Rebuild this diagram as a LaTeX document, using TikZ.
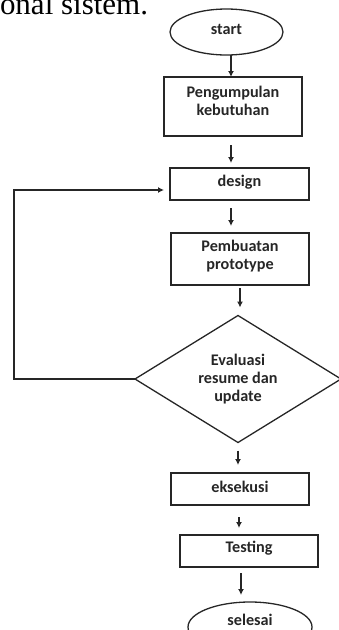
\documentclass[tikz,border=0pt]{standalone}
\usepackage{fontspec}
\setmainfont{Carlito}
\newfontfamily\serifx{Liberation Serif}
\usetikzlibrary{shapes.geometric,arrows.meta}
\tikzset{
  x=1pt, y=-1pt,
  every node/.style={outer sep=0pt},
  ln/.style={line width=1.3pt, draw=black!85},
  box/.style={ln, rectangle, minimum width=138pt, minimum height=32pt, inner sep=0pt},
  oval/.style={ln, ellipse, inner sep=0pt},
  dec/.style={ln, diamond, inner sep=0pt, minimum width=206pt, minimum height=127pt},
  txt/.style={align=center, inner sep=0pt, text=black!85, font=\bfseries\fontsize{16.2}{18}\selectfont},
  arr/.style={ln, -{Latex[length=6pt,width=6pt]}}
}
\begin{document}
\begin{tikzpicture}
\clip (0,0) rectangle (339,630);
\node[anchor=base west, inner sep=0pt, font=\serifx\fontsize{31}{36}\selectfont] (head) at (0,14) {onal sistem.};

\node[oval, minimum width=113pt, minimum height=46pt, label={[txt, yshift=3pt]center:start}] (start) at (226.5,32) {};
\node[box, minimum height=59pt, label={[txt, yshift=6pt]center:Pengumpulan\\kebutuhan}] (peng) at (233,106.5) {};
\node[box, minimum width=139pt, label={[txt, yshift=1.5pt]center:design}] (design) at (239.5,184) {};
\node[box, minimum height=52pt, label={[txt, yshift=3pt]center:Pembuatan\\prototype}] (pemb) at (240,259) {};
\node[dec, label={[txt]center:Evaluasi\\resume dan\\update}] (dia) at (238,379) {};
\node[box, label={[txt, yshift=2pt]center:eksekusi}] (eks) at (240,489) {};
\node[box, label={[txt, yshift=3pt]center:Testing}] (test) at (249,551) {};
\node[oval, minimum width=124pt, minimum height=50pt, label={[txt, yshift=7pt]center:selesai}] (end) at (250,627) {};
\coordinate (loopx) at (14,300);

\draw[arr] ([xshift=4.5pt]start.south) -- ([xshift=-2pt]peng.north);
\draw[arr, shorten <=9pt, shorten >=5pt] ([xshift=-2pt]peng.south) -- ([xshift=-8.5pt]design.north);
\draw[arr, shorten <=8pt, shorten >=7pt] ([xshift=-8.5pt]design.south) -- ([xshift=-9pt]pemb.north);
\draw[arr, shorten <=3pt, shorten >=8pt] (pemb.south) -- ([xshift=2pt]dia.north);
\draw[arr, shorten <=8pt, shorten >=8pt] (dia.south) -- ([xshift=-2pt]eks.north);
\draw[arr, shorten <=12pt, shorten >=7pt] ([xshift=-1pt]eks.south) -- ([xshift=-10pt]test.north);
\draw[arr, shorten <=6pt, shorten >=7pt] ([xshift=-8pt]test.south) -- ([xshift=-9pt]end.north);
\draw[arr, shorten >=6pt] (dia.west) -- (dia.west -| loopx) |- ([yshift=-6pt]design.west);
\end{tikzpicture}
\end{document}
